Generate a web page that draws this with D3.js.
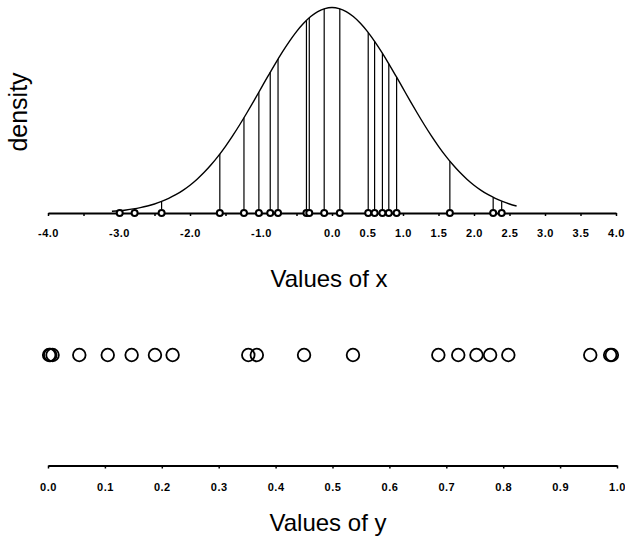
<!DOCTYPE html>
<html><head><meta charset="utf-8">
<script src="https://cdn.jsdelivr.net/npm/d3@7"></script>
<style>body{margin:0;background:#fff} svg{display:block}</style>
</head><body><svg id="c" width="625" height="537"></svg>
<script>
// sample values of x
const xValues = [-2.99, -2.78, -2.40, -1.58, -1.24, -1.03, -0.87, -0.76, -0.36, -0.32,
                 -0.11, 0.11, 0.51, 0.60, 0.71, 0.80, 0.91, 1.66, 2.27, 2.39];
// height of each stem (density at the sample point)
const xDensity = [0.0046, 0.0084, 0.0224, 0.1145, 0.1849, 0.2347, 0.2732, 0.2989, 0.3739, 0.3790,
                  0.3965, 0.3965, 0.3502, 0.3332, 0.3101, 0.2897, 0.2637, 0.1006, 0.0303, 0.0229];
// values of y
const yValues = [0.002, 0.004, 0.008, 0.055, 0.105, 0.147, 0.188, 0.219, 0.352, 0.367,
                 0.450, 0.536, 0.686, 0.721, 0.753, 0.777, 0.809, 0.953, 0.988, 0.991];
// density curve points
const curveX = [-3.1,-3.0,-2.9,-2.8,-2.7,-2.6,-2.5,-2.4,-2.3,-2.2,-2.1,-2.0,-1.9,-1.8,-1.7,-1.6,-1.5,-1.4,-1.3,-1.2,
                -1.1,-1.0,-0.9,-0.8,-0.7,-0.6,-0.5,-0.4,-0.3,-0.2,-0.1,0.0,0.1,0.2,0.3,0.4,0.5,0.6,0.7,0.8,
                0.9,1.0,1.1,1.2,1.3,1.4,1.5,1.6,1.7,1.8,1.9,2.0,2.1,2.2,2.3,2.4,2.5,2.6];
const curveDensity = [0.00327,0.00443,0.00595,0.00792,0.01042,0.01358,0.01753,0.02239,0.02833,0.03547,
                      0.04398,0.05399,0.06562,0.07895,0.09405,0.11092,0.12952,0.14973,0.17137,0.19419,
                      0.21785,0.24197,0.26609,0.28969,0.31225,0.33322,0.35207,0.36827,0.38139,0.39104,
                      0.39695,0.39894,0.39695,0.39104,0.38139,0.36827,0.35207,0.33322,0.31225,0.28969,
                      0.26609,0.24197,0.21785,0.19419,0.17137,0.14973,0.12952,0.11092,0.09405,0.07895,
                      0.06562,0.05399,0.04398,0.03547,0.02833,0.02239,0.01753,0.01358];
const xTickValues = [-4,-3.5,-3,-2.5,-2,-1.5,-1,-0.5,0,0.5,1,1.5,2,2.5,3,3.5,4];
const xTickLabels = ["-4.0","","-3.0","","-2.0","","-1.0","","0.0","0.5","1.0","1.5","2.0","2.5","3.0","3.5","4.0"];
const yTickValues = [0,0.1,0.2,0.3,0.4,0.5,0.6,0.7,0.8,0.9,1.0];
const yTickLabels = ["0.0","0.1","0.2","0.3","0.4","0.5","0.6","0.7","0.8","0.9","1.0"];

const FONT = "'Liberation Sans', Arial, sans-serif";
const svg = d3.select("#c");
const x = d3.scaleLinear().domain([-4, 4]).range([48, 616]);
const dens = d3.scaleLinear().domain([0, 0.4]).range([213, 7]);
const u = d3.scaleLinear().domain([0, 1]).range([48, 617]);

// density curve
svg.append("path")
  .datum(curveX.map((v, i) => [v, curveDensity[i]]))
  .attr("fill", "none").attr("stroke", "#000").attr("stroke-width", 1.4)
  .attr("d", d3.line().x(p => x(p[0])).y(p => dens(p[1])).curve(d3.curveMonotoneX));

// stems
svg.append("g").selectAll("line").data(xValues).join("line")
  .attr("x1", v => x(v)).attr("x2", v => x(v))
  .attr("y1", dens(0)).attr("y2", (v, i) => dens(xDensity[i]))
  .attr("stroke", "#000").attr("stroke-width", 1.2);

// top axis
const gx = svg.append("g").attr("transform", `translate(0,${dens(0)})`)
  .call(d3.axisBottom(x).tickValues(xTickValues).tickFormat((v, i) => xTickLabels[i])
        .tickSize(3).tickSizeOuter(0).tickPadding(13));
gx.select(".domain").attr("stroke-width", 2);
gx.selectAll(".tick line").attr("stroke-width", 1.5);
gx.selectAll("text").attr("font-family", FONT).attr("font-size", 11)
  .attr("font-weight", "bold").attr("letter-spacing", 0.5).attr("fill", "#000");

// top circles
svg.append("g").selectAll("circle").data(xValues).join("circle")
  .attr("cx", v => x(v)).attr("cy", dens(0)).attr("r", 3)
  .attr("fill", "#fff").attr("stroke", "#000").attr("stroke-width", 2);

// y label
svg.append("text").attr("transform", "translate(27,112) rotate(-90)")
  .attr("text-anchor", "middle").attr("font-family", FONT).attr("font-size", 25)
  .text("density");

svg.append("text").attr("x", 329).attr("y", 287).attr("text-anchor", "middle")
  .attr("font-family", FONT).attr("font-size", 24).text("Values of x");

// bottom circles
svg.append("g").selectAll("circle").data(yValues).join("circle")
  .attr("cx", v => u(v)).attr("cy", 355).attr("r", 6.3)
  .attr("fill", "none").attr("stroke", "#000").attr("stroke-width", 1.8);

// bottom axis
const gu = svg.append("g").attr("transform", "translate(0,465.5)")
  .call(d3.axisBottom(u).tickValues(yTickValues).tickFormat((v, i) => yTickLabels[i])
        .tickSize(3).tickSizeOuter(0).tickPadding(15));
gu.select(".domain").attr("stroke-width", 2);
gu.selectAll(".tick line").attr("stroke-width", 1.5);
gu.selectAll("text").attr("font-family", FONT).attr("font-size", 11)
  .attr("font-weight", "bold").attr("letter-spacing", 0.5).attr("fill", "#000");

svg.append("text").attr("x", 328).attr("y", 531).attr("text-anchor", "middle")
  .attr("font-family", FONT).attr("font-size", 24).text("Values of y");
</script></body></html>
